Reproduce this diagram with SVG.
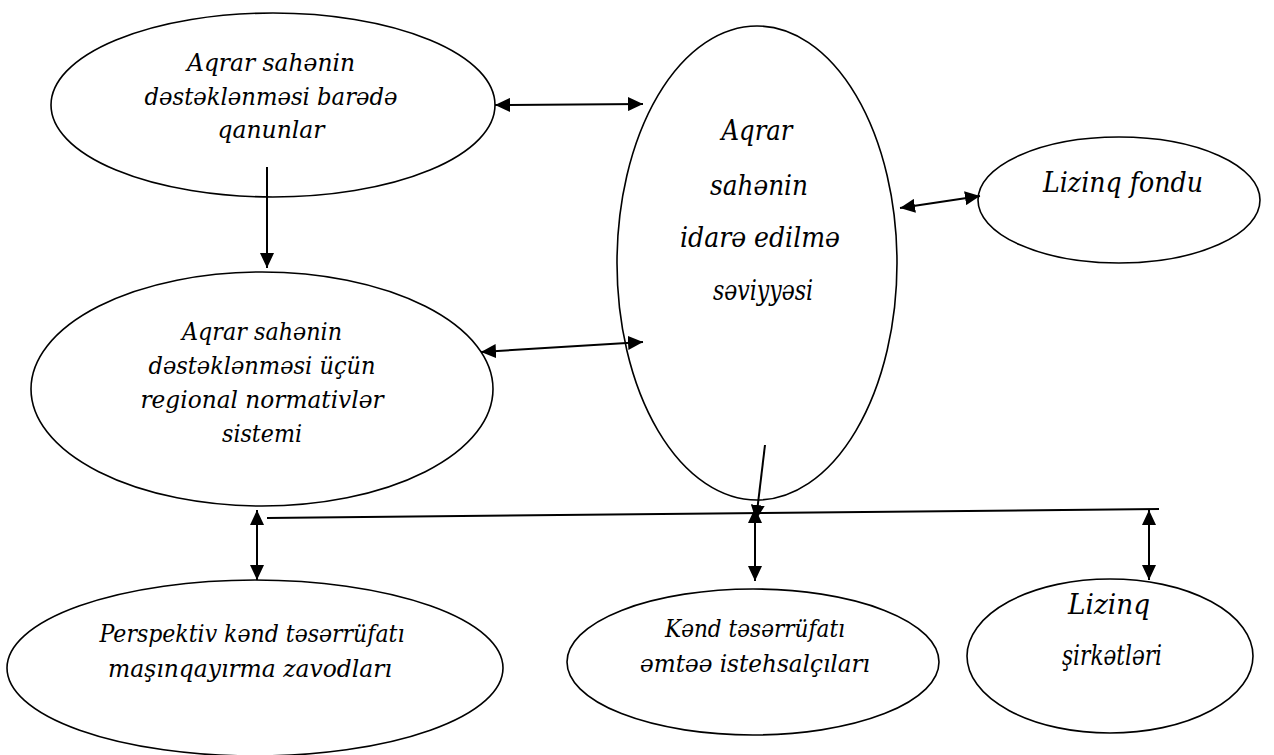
<svg xmlns="http://www.w3.org/2000/svg" width="1274" height="755" viewBox="0 0 1274 755">
<style>
.node ellipse{fill:#fff;stroke:#000;stroke-width:1.6}
.node text{font-family:"DejaVu Serif","Liberation Serif",serif;font-style:italic;fill:#000;text-anchor:middle}
.t28{font-size:25px}
.t30{font-size:27px}
#connectors line{stroke:#000;stroke-width:2;fill:none}
.one{marker-end:url(#ah)}
.two{marker-start:url(#ah);marker-end:url(#ah)}
</style>
<defs>
<marker id="ah" markerUnits="userSpaceOnUse" markerWidth="15" markerHeight="14" refX="15" refY="7" orient="auto-start-reverse" viewBox="0 0 15 14">
<path d="M0,0 L15,7 L0,14 z" fill="#000"/>
</marker>
</defs>
<rect width="1274" height="755" fill="#fff"/>
<g id="n-qanunlar" class="node">
<ellipse cx="273" cy="105" rx="222" ry="92"/>
<text class="t28" x="271" y="71" textLength="168" lengthAdjust="spacingAndGlyphs">Aqrar sahənin</text>
<text class="t28" x="271" y="105" textLength="253" lengthAdjust="spacingAndGlyphs">dəstəklənməsi barədə</text>
<text class="t28" x="271" y="138" textLength="107" lengthAdjust="spacingAndGlyphs">qanunlar</text>
</g>
<g id="n-normativ" class="node">
<ellipse cx="262" cy="389" rx="231" ry="117"/>
<text class="t28" x="262" y="340" textLength="160" lengthAdjust="spacingAndGlyphs">Aqrar sahənin</text>
<text class="t28" x="262" y="374" textLength="227" lengthAdjust="spacingAndGlyphs">dəstəklənməsi üçün</text>
<text class="t28" x="262" y="408" textLength="243" lengthAdjust="spacingAndGlyphs">regional normativlər</text>
<text class="t28" x="262" y="442" textLength="80" lengthAdjust="spacingAndGlyphs">sistemi</text>
</g>
<g id="n-idare" class="node">
<ellipse cx="757" cy="263" rx="140" ry="237"/>
<text class="t30" x="757" y="140" textLength="71" lengthAdjust="spacingAndGlyphs">Aqrar</text>
<text class="t30" x="759" y="195" textLength="98" lengthAdjust="spacingAndGlyphs">sahənin</text>
<text class="t30" x="760" y="247" textLength="160" lengthAdjust="spacingAndGlyphs">idarə edilmə</text>
<text class="t30" x="763" y="300" textLength="100" lengthAdjust="spacingAndGlyphs">səviyyəsi</text>
</g>
<g id="n-fond" class="node">
<ellipse cx="1119" cy="200" rx="141" ry="63"/>
<text class="t30" x="1123" y="192" textLength="160" lengthAdjust="spacingAndGlyphs">Lizinq fondu</text>
</g>
<g id="n-zavod" class="node">
<ellipse cx="255" cy="668" rx="248" ry="88"/>
<text class="t28" x="252" y="642" textLength="305" lengthAdjust="spacingAndGlyphs">Perspektiv kənd təsərrüfatı</text>
<text class="t28" x="250" y="677" textLength="284" lengthAdjust="spacingAndGlyphs">maşınqayırma zavodları</text>
</g>
<g id="n-emtee" class="node">
<ellipse cx="753" cy="662" rx="186" ry="73"/>
<text class="t28" x="755" y="637" textLength="180" lengthAdjust="spacingAndGlyphs">Kənd təsərrüfatı</text>
<text class="t28" x="755" y="672" textLength="230" lengthAdjust="spacingAndGlyphs">əmtəə istehsalçıları</text>
</g>
<g id="n-sirket" class="node">
<ellipse cx="1110" cy="656" rx="143" ry="77"/>
<text class="t30" x="1109" y="614" textLength="82" lengthAdjust="spacingAndGlyphs">Lizinq</text>
<text class="t30" x="1112" y="665" textLength="100" lengthAdjust="spacingAndGlyphs">şirkətləri</text>
</g>
<g id="connectors">
<line class="two" x1="495" y1="105" x2="643" y2="104"/>
<line class="two" x1="481" y1="352" x2="643" y2="342"/>
<line class="two" x1="900" y1="208" x2="980" y2="196"/>
<line class="one" x1="267" y1="167" x2="267" y2="268"/>
<line x1="267" y1="518" x2="1159" y2="509"/>
<line class="one" x1="765" y1="445" x2="756" y2="520"/>
<line class="two" x1="257" y1="510" x2="257" y2="580"/>
<line class="two" x1="755" y1="508" x2="755" y2="581"/>
<line class="two" x1="1149" y1="510" x2="1149" y2="580"/>
</g>
</svg>
